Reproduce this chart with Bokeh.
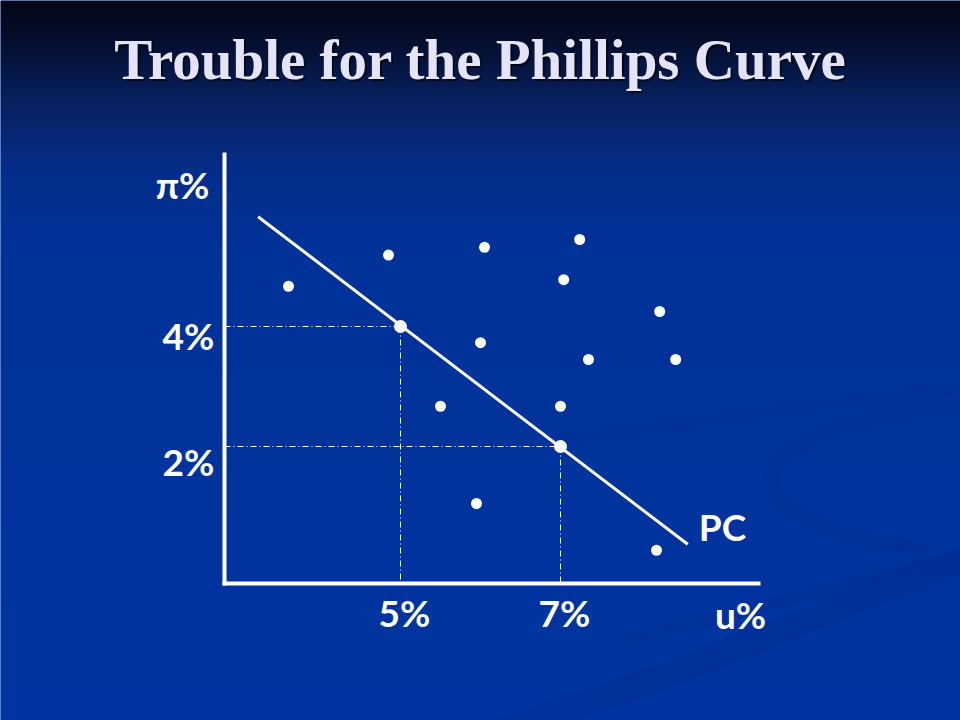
import numpy as np
from bokeh.plotting import figure
from bokeh.models import Range1d
from bokeh.core.properties import value
from bokeh.embed import file_html
from bokeh.resources import INLINE

# ---------------- data ----------------
TITLE = "Trouble for the Phillips Curve"
# observed (u%, π%) combinations scattered around the curve
OBS_U = [3.60, 4.85, 6.05, 7.24, 7.04, 8.24, 6.00, 7.35, 8.44, 5.50, 7.00, 5.95, 8.20]
OBS_PI = [4.67, 5.19, 5.32, 5.45, 4.78, 4.25, 3.73, 3.45, 3.45, 2.67, 2.67, 1.05, 0.27]
# points that lie on the Phillips curve
ON_U = [5, 7]
ON_PI = [4, 2]
# Phillips curve end points
PC_U = [3.22, 8.59]
PC_PI = [5.83, 0.37]
X_TICKS = [5, 7]
X_TICK_LABELS = ["5%", "7%"]
Y_TICKS = [4, 2]
Y_TICK_LABELS = ["4%", "2%"]
X_TITLE = "u%"
Y_TITLE = "π%"
CURVE_LABEL = "PC"

# ---------------- geometry helpers (page pixels -> data) ----------------
W, H = 960, 720
OFF = 0       # page offset of the figure
PX_U = 80.0   # pixels per unit of u
PX_PI = 60.0  # pixels per unit of pi
def u_of(X):
    return X / PX_U
def pi_of(Y):
    return (566.0 - Y) / PX_PI

x0, x1 = u_of(OFF), u_of(OFF + W)
y0, y1 = pi_of(OFF + H), pi_of(OFF)

p = figure(width=W, height=H, output_backend="svg", toolbar_location=None,
           x_range=Range1d(x0, x1), y_range=Range1d(y0, y1),
           x_axis_type=None, y_axis_type=None, min_border=0,
           outline_line_color=None)
p.grid.visible = False
p.background_fill_color = "#0034a0"
p.border_fill_color = "#0034a0"

# background gradient
stops_Y = [0, 40, 100, 170, 250, 720]
stops_c = [(2, 6, 22), (4, 14, 45), (8, 32, 95), (4, 45, 138), (1, 50, 152), (0, 52, 160)]
ys = np.arange(OFF + H, OFF, -1) - 0.5  # bottom row first
rows = np.zeros((H, 2), dtype=np.uint32)
view = rows.view(dtype=np.uint8).reshape((H, 2, 4))
for k in range(3):
    ch = np.interp(ys, stops_Y, [c[k] for c in stops_c])
    view[:, :, k] = np.round(ch)[:, None].astype(np.uint8)
view[:, :, 3] = 255
p.image_rgba(image=[rows], x=x0, y=y0, dw=x1 - x0, dh=y1 - y0)

# faint swirl decoration
def bz(sx, sy, c0x, c0y, c1x, c1y, ex, ey, w, a):
    p.bezier(x0=u_of(sx), y0=pi_of(sy), cx0=u_of(c0x), cy0=pi_of(c0y),
             cx1=u_of(c1x), cy1=pi_of(c1y), x1=u_of(ex), y1=pi_of(ey),
             line_color="#002b85", line_width=w, line_alpha=a, line_cap="round")
bz(480, 735, 650, 690, 820, 610, 975, 555, 26, 0.22)
bz(560, 440, 700, 420, 850, 400, 975, 385, 12, 0.18)
bz(975, 405, 720, 420, 720, 520, 900, 545, 16, 0.2)
bz(900, 545, 990, 560, 780, 600, 620, 640, 12, 0.16)

# axes
AX_U = u_of(224)
AX_PI = pi_of(583)
p.segment(x0=[AX_U], y0=[pi_of(152)], x1=[AX_U], y1=[pi_of(585)],
          line_color="white", line_width=4)
p.segment(x0=[u_of(222)], y0=[AX_PI], x1=[u_of(760)], y1=[AX_PI],
          line_color="white", line_width=4)

# guide lines (dash-dot)
for uu, pp in zip(ON_U, ON_PI):
    p.line([AX_U, uu], [pp, pp], line_color="white", line_width=1, line_dash="6 3 1 3")
    p.line([uu, uu], [pp, AX_PI], line_color="white", line_width=1, line_dash="6 3 1 3")

# Phillips curve
p.line(PC_U, PC_PI, line_color="white", line_width=3)

# dots
p.scatter(OBS_U, OBS_PI, size=11, fill_color="white", line_color=None)
p.scatter(ON_U, ON_PI, size=13, fill_color="white", line_color=None)

font = value("Lato")
fs = "37px"
# tick labels
p.text(x=[t + 4 / PX_U for t in X_TICKS], y=[pi_of(612)] * len(X_TICKS), text=X_TICK_LABELS,
       text_font=font, text_font_style="bold", text_font_size=fs, text_color="white",
       text_align="center", text_baseline="middle")
y_lab_off = [9, 15]
p.text(x=[u_of(188)] * len(Y_TICKS), y=[t - o / PX_PI for t, o in zip(Y_TICKS, y_lab_off)],
       text=Y_TICK_LABELS, text_font=font, text_font_style="bold", text_font_size=fs,
       text_color="white", text_align="center", text_baseline="middle")
# axis titles and curve label
p.text(x=[u_of(740)], y=[pi_of(614)], text=[X_TITLE], text_font=font, text_font_style="bold",
       text_font_size=fs, text_color="white", text_align="center", text_baseline="middle")
p.text(x=[u_of(182)], y=[pi_of(184)], text=[Y_TITLE], text_font=font, text_font_style="bold",
       text_font_size=fs, text_color="white", text_align="center", text_baseline="middle")
p.text(x=[u_of(722)], y=[pi_of(526)], text=[CURVE_LABEL], text_font=font, text_font_style="bold",
       text_font_size=fs, text_color="white", text_align="center", text_baseline="middle")

# title with shadow
tfont = value("Liberation Serif")
p.text(x=[u_of(482)], y=[pi_of(61)], text=[TITLE], text_font=tfont, text_font_style="bold",
       text_font_size="57px", text_color="#000814", text_alpha=0.8,
       text_align="center", text_baseline="middle")
p.text(x=[u_of(480)], y=[pi_of(59)], text=[TITLE], text_font=tfont, text_font_style="bold",
       text_font_size="57px", text_color="#e4e4f6",
       text_align="center", text_baseline="middle")

html = file_html(p, INLINE, title=TITLE)
css = ("background: linear-gradient(to bottom, #02061a 0px, #040e2d 40px, #08205f 100px, "
       "#042d8a 170px, #013298 250px, #0034a0 720px); background-attachment: fixed;")
html = html.replace("<body>", '<body style="' + css + '">', 1)
open("out.html", "w").write(html)
